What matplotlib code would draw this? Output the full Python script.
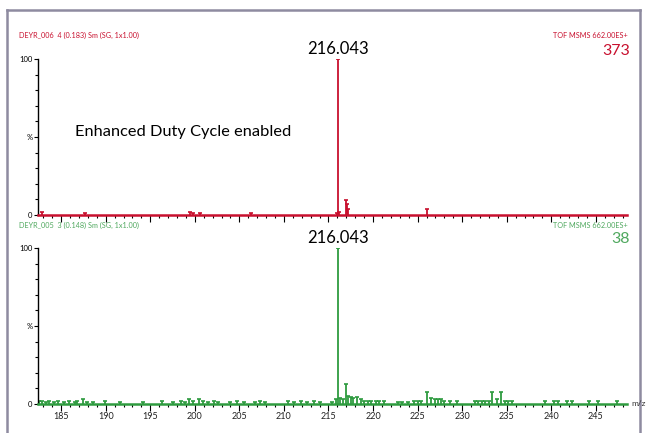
import matplotlib
matplotlib.use("Agg")
import matplotlib.pyplot as plt
from matplotlib.lines import Line2D
from matplotlib.ticker import MultipleLocator

plt.rcParams['font.family'] = ['Lato', 'DejaVu Sans']

# ---- data (m/z, relative intensity %) ----
top_mz = [182.8, 187.7, 199.5, 199.8, 200.6, 206.3, 215.9, 216.043, 216.2,
          217.0, 217.1, 217.2, 226.0]
top_int = [2.0, 1.5, 2.0, 1.5, 1.5, 1.5, 1.5, 100.0, 2.0,
           9.6, 7.0, 4.0, 3.6]

bot_mz = [182.5, 182.9, 183.3, 183.6, 184.2, 184.6, 185.3, 185.9, 186.5, 186.8,
          187.5, 187.9, 188.6, 189.9, 191.6, 194.2, 196.3, 197.6, 198.5, 198.9,
          199.4, 199.8, 200.5, 200.9, 201.5, 202.1, 202.6, 203.9, 204.7, 205.5,
          206.8, 207.3, 207.9, 210.4, 211.1, 211.9, 212.6, 213.4, 214.1, 215.4,
          215.8, 216.043, 216.3, 216.6, 217.0, 217.2, 217.5, 217.8, 218.2, 218.6,
          219.0, 219.4, 219.8, 220.3, 220.7, 221.2, 222.8, 223.3, 223.9, 224.6,
          225.0, 225.4, 226.0, 226.5, 227.0, 227.3, 227.6, 228.0, 228.6, 229.4,
          231.4, 231.8, 232.2, 232.6, 233.0, 233.4, 233.9, 234.4, 234.8, 235.2,
          235.6, 239.3, 240.3, 240.8, 241.8, 242.3, 244.2, 245.3, 247.4]
bot_int = [2.0, 2.0, 1.5, 2.0, 1.5, 2.0, 1.5, 2.0, 1.5, 2.0,
           3.5, 1.5, 1.5, 2.0, 1.5, 1.5, 2.0, 1.5, 2.0, 1.5,
           3.0, 2.0, 3.0, 2.0, 1.5, 2.0, 1.5, 1.5, 2.0, 1.5,
           1.5, 2.0, 1.5, 2.0, 1.5, 2.0, 1.5, 2.0, 1.5, 1.5,
           3.0, 100.0, 4.0, 3.0, 13.0, 5.0, 4.5, 4.0, 4.5, 3.0,
           2.0, 2.0, 2.0, 2.0, 2.0, 2.0, 1.5, 1.5, 1.5, 2.0,
           2.0, 2.0, 7.5, 4.0, 3.0, 3.0, 3.0, 2.0, 2.0, 2.0,
           2.0, 2.0, 2.0, 2.0, 2.0, 7.5, 3.0, 7.5, 2.0, 2.0,
           2.0, 2.0, 2.0, 2.0, 2.0, 2.0, 2.0, 2.0, 2.0]

x_ticks = [185, 190, 195, 200, 205, 210, 215, 220, 225, 230, 235, 240, 245]
xmin, xmax = 182.4, 248.5

RED = '#c8102e'
GREEN = '#2e9b3f'
GREEN_TXT = '#4fa85e'
FRAME = '#8e8ba0'

fig = plt.figure(figsize=(6.47, 4.33), dpi=100)
W, H = 647.0, 433.0

def fx(px):
    return px / W

def fy(py):
    return 1 - py / H

def make_ax(y100, y0, color, mz, inten, labels):
    ax = fig.add_axes([fx(38), fy(y0), fx(627) - fx(38), fy(y100) - fy(y0)])
    ax.vlines(mz, 0, inten, color=color, lw=1.3)
    ax.plot(mz, inten, ls='none', marker='_', ms=3.5, mew=1.2, color=color)
    ax.set_xlim(xmin, xmax)
    ax.set_ylim(0, 100)
    for s in ('top', 'right'):
        ax.spines[s].set_visible(False)
    ax.spines['bottom'].set_color(color)
    ax.spines['bottom'].set_linewidth(1.8)
    ax.spines['left'].set_linewidth(1.0)
    ax.spines['left'].set_color('black')
    ax.xaxis.set_major_locator(MultipleLocator(5))
    ax.xaxis.set_minor_locator(MultipleLocator(1))
    ax.set_xticks(x_ticks)
    ax.tick_params(axis='x', which='major', length=5, width=0.8, color='black',
                   labelsize=6.5, pad=1, labelcolor='#222222')
    ax.tick_params(axis='x', which='minor', length=2.5, width=0.8, color='black')
    ax.set_yticks([0, 50, 100])
    ax.set_yticklabels(['0', '%', '100'])
    ax.yaxis.set_minor_locator(MultipleLocator(10))
    ax.tick_params(axis='y', which='major', length=3, width=0.8, labelsize=5.5, pad=1)
    ax.tick_params(axis='y', which='minor', length=2, width=0.8)
    if not labels:
        ax.tick_params(axis='x', labelbottom=False)
    return ax

ax1 = make_ax(59, 215, RED, top_mz, top_int, False)
ax2 = make_ax(248, 404, GREEN, bot_mz, bot_int, True)

# annotations
fig.text(fx(19), fy(35), 'DEYR_006  4 (0.183) Sm (SG, 1x1.00)', color=RED,
         fontsize=5.2, va='center', ha='left')
fig.text(fx(628), fy(35), 'TOF MSMS 662.00ES+', color=RED, fontsize=5.2,
         va='center', ha='right')
fig.text(fx(630), fy(51), '373', color=RED, fontsize=11.5, va='center', ha='right')
ax1.text(216.043, 101.5, '216.043', color='black', fontsize=12, ha='center', va='bottom')
fig.text(fx(75), fy(132), 'Enhanced Duty Cycle enabled', color='black', fontsize=11.8,
         va='center', ha='left')

fig.text(fx(19), fy(225), 'DEYR_005  3 (0.148) Sm (SG, 1x1.00)', color=GREEN_TXT,
         fontsize=5.2, va='center', ha='left')
fig.text(fx(628), fy(225), 'TOF MSMS 662.00ES+', color=GREEN_TXT, fontsize=5.2,
         va='center', ha='right')
fig.text(fx(630), fy(239), '38', color=GREEN_TXT, fontsize=11.5, va='center', ha='right')
ax2.text(216.043, 101.5, '216.043', color='black', fontsize=12, ha='center', va='bottom')
fig.text(fx(631), fy(403), 'm/z', color='#333333', fontsize=6, va='center', ha='left')

# frame
fig.add_artist(Line2D([fx(7), fx(7)], [0, fy(10)], color=FRAME, lw=1.8))
fig.add_artist(Line2D([fx(7), fx(640)], [fy(10), fy(10)], color=FRAME, lw=1.8))
fig.add_artist(Line2D([fx(640), fx(640)], [0, fy(10)], color=FRAME, lw=1.8))

fig.savefig('out.png', dpi=100, facecolor='white')
